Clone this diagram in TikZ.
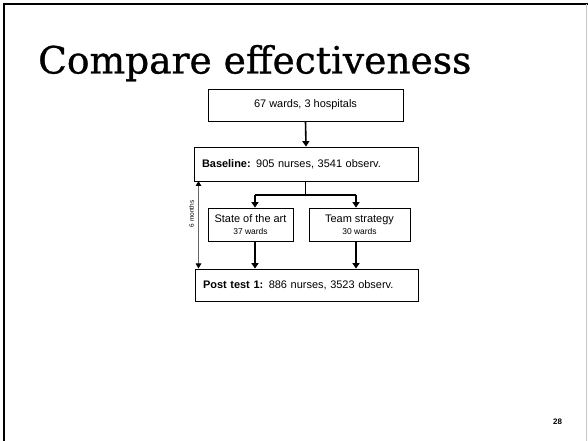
\documentclass[tikz,border=0pt]{standalone}
\usepackage{fontspec}
\setmainfont{Liberation Sans}
\newfontfamily\titlefont[FakeBold=0.8]{DejaVu Serif}
\usetikzlibrary{arrows.meta}
\begin{document}
\begin{tikzpicture}[x=1bp,y=-1bp,
  box/.style={draw=black,line width=0.8bp,inner sep=0pt,font=\fontsize{11}{13}\selectfont},
  lbox/.style={box,inner xsep=8bp,align=left},
  flow/.style={line width=1.6bp,-{Triangle[width=7bp,length=5.5bp]}},
  flowline/.style={line width=1.6bp},
  span/.style={draw=gray!80!black,line width=1bp,{Triangle[width=5.5bp,length=5bp,color=black]}-{Triangle[width=5.5bp,length=5bp,color=black]}}]
\useasboundingbox (0,0) rectangle (588,441);
\fill[white] (0,0) rectangle (588,441);
% slide frame
\draw[line width=2.2bp] (4.1,441) -- (4.1,4.1) -- (588,4.1);
\draw[gray!45,line width=0.8bp] (586.5,4) -- (586.5,441);
% title
\node[anchor=base west,inner sep=0pt,font=\titlefont\fontsize{37.7}{42}\selectfont] (title) at (38,73.5) {Compare effectiveness};
% boxes
\node[box,minimum width=195bp,minimum height=32bp] (wards) at (305.5,105) {67 wards, 3 hospitals};
\node[lbox,text width=208bp,minimum height=34bp] (base) at (306,164) {\textbf{Baseline:} 905 nurses, 3541 observ.};
\node[box,minimum width=85bp,minimum height=33bp,align=center] (sota) at (250.5,224.5) {State of the art\\[-1bp]{\fontsize{8.5}{10}\selectfont 37 wards}};
\node[box,minimum width=101bp,minimum height=33bp,align=center] (team) at (359.5,224.5) {Team strategy\\[-1bp]{\fontsize{8.5}{10}\selectfont 30 wards}};
\node[lbox,text width=207bp,minimum height=32bp] (post) at (306.5,285) {\textbf{Post test 1:} 886 nurses, 3523 observ.};
% connectors
\draw[flow] (wards.south) -- (base.north);
\coordinate (bl) at (255,195);
\coordinate (bm) at (305.5,195);
\coordinate (br) at (356,195);
\draw[flowline] (base.south -| bm) -- (bm);
\draw[flowline] (bl) -- (br);
\draw[flow] (bl) -- (bl |- sota.north);
\draw[flow] (br) -- (br |- team.north);
\draw[flow] (bl |- sota.south) -- (bl |- post.north);
\draw[flow] (br |- team.south) -- (br |- post.north);
% 6 months
\coordinate (mtop) at (198.5,181);
\coordinate (mbot) at (198.5,268.5);
\draw[span] (mtop) -- (mbot);
\node[rotate=90,inner sep=0pt,font=\fontsize{6.5}{7}\selectfont] (months) at (191.5,214) {6 months};
% page number
\node[inner sep=0pt,font=\bfseries\fontsize{8}{9}\selectfont] (page) at (557.5,421.5) {28};
\end{tikzpicture}
\end{document}
